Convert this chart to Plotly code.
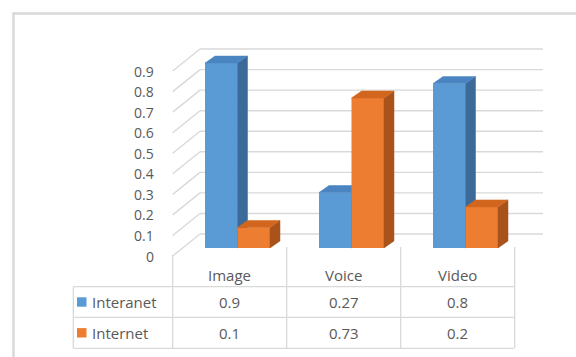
import plotly.graph_objects as go

# ---- data -------------------------------------------------------------
categories = ["Image", "Voice", "Video"]
series_names = ["Interanet", "Internet"]
interanet = [0.9, 0.27, 0.8]
internet = [0.1, 0.73, 0.2]
y_ticks = [0, 0.1, 0.2, 0.3, 0.4, 0.5, 0.6, 0.7, 0.8, 0.9]
y_tick_labels = ["0", "0.1", "0.2", "0.3", "0.4", "0.5", "0.6", "0.7", "0.8", "0.9"]

# ---- styling ----------------------------------------------------------
W, H = 576, 357
FONT = "Open Sans"
TXT = "#595959"
GRID = "#d9d9d9"
FRONT = ["#5b9bd5", "#ed7d31"]
TOP = ["#4a85c2", "#d2661f"]
SIDE = ["#3b6a99", "#a9531a"]

# geometry of the pseudo-3D box (pixels)
COL0, COLW = 229.7, 114.0      # centre of first column, column width
BASE, UNIT = 248.0, 205.5      # bar baseline, pixels per 1.0
BAR_W = 32.5 / COLW
OFFSETS = [-24.7 / COLW, 7.8 / COLW]
DX, DY = 10.0 / COLW, 7.0 / UNIT            # bar depth
BACK, FRONT_OFF = 14.0 / UNIT, -8.0 / UNIT  # wall offsets from bar plane


def xu(px):
    return (px - COL0) / COLW


def py(px):
    return 1 - px / H


x_range = [xu(0), xu(W)]
y_range = [(BASE - H) / UNIT, BASE / UNIT]

fig = go.Figure()
series = [interanet, internet]
axes = [("x", "y"), ("x2", "y2")]

for s, (vals, name) in enumerate(zip(series, series_names)):
    xa, ya = axes[s]
    xs = [i for i in range(len(categories))]
    fig.add_trace(go.Bar(
        x=xs, y=vals, width=BAR_W, offset=OFFSETS[s], name=name,
        marker=dict(color=FRONT[s], line=dict(width=0)),
        xaxis=xa, yaxis=ya, showlegend=False, hoverinfo="skip"))
    sx, sy, tx, ty = [], [], [], []
    for i, v in enumerate(vals):
        xl = i + OFFSETS[s]
        xr = xl + BAR_W
        sx += [xr, xr + DX, xr + DX, xr, xr, None]
        sy += [0, DY, v + DY, v, 0, None]
        tx += [xl, xl + DX, xr + DX, xr, xl, None]
        ty += [v, v + DY, v + DY, v, v, None]
    fig.add_trace(go.Scatter(x=sx, y=sy, fill="toself", fillcolor=SIDE[s],
                             mode="lines", line=dict(width=0.5, color=SIDE[s]),
                             xaxis=xa, yaxis=ya, showlegend=False, hoverinfo="skip"))
    fig.add_trace(go.Scatter(x=tx, y=ty, fill="toself", fillcolor=TOP[s],
                             mode="lines", line=dict(width=0.5, color=TOP[s]),
                             xaxis=xa, yaxis=ya, showlegend=False, hoverinfo="skip"))

shapes = []
# back wall gridlines and side wall diagonals
for v in y_ticks:
    shapes.append(dict(type="line", xref="x", yref="y", layer="below",
                       x0=xu(200), x1=xu(543), y0=v + BACK, y1=v + BACK,
                       line=dict(color=GRID, width=1.4)))
    shapes.append(dict(type="line", xref="x", yref="y", layer="below",
                       x0=xu(172.7), x1=xu(200), y0=v + FRONT_OFF, y1=v + BACK,
                       line=dict(color=GRID, width=1.4)))

# data table grid
TBL_L, TBL_R = 73.3, 514.0
ROWS = [286.7, 317.3, 348.3]
for r in ROWS:
    shapes.append(dict(type="line", xref="paper", yref="paper",
                       x0=TBL_L / W, x1=TBL_R / W, y0=py(r), y1=py(r),
                       line=dict(color=GRID, width=1.3)))
shapes.append(dict(type="line", xref="paper", yref="paper",
                   x0=TBL_L / W, x1=TBL_L / W, y0=py(ROWS[0]), y1=py(ROWS[-1]),
                   line=dict(color=GRID, width=1.3)))
for k in range(len(categories) + 1):
    top = 255 if k == 0 else 247
    shapes.append(dict(type="line", xref="x", yref="paper",
                       x0=k - 0.5, x1=k - 0.5, y0=py(top), y1=py(ROWS[-1]),
                       line=dict(color=GRID, width=1.3)))

# legend keys inside the table
for s in range(2):
    yc = (ROWS[s] + ROWS[s + 1]) / 2
    shapes.append(dict(type="rect", xref="paper", yref="paper",
                       x0=77 / W, x1=86.5 / W, y0=py(yc + 4.7), y1=py(yc - 4.7),
                       fillcolor=FRONT[s], line=dict(width=0)))

# chart area border
shapes.append(dict(type="line", xref="paper", yref="paper",
                   x0=13.5 / W, x1=13.5 / W, y0=py(12.5), y1=0,
                   line=dict(color="#d9d9d9", width=2.5)))
shapes.append(dict(type="line", xref="paper", yref="paper",
                   x0=12.5 / W, x1=1, y0=py(13.5), y1=py(13.5),
                   line=dict(color="#d9d9d9", width=2.5)))

annotations = []
fnt_axis = dict(family=FONT, size=14, color=TXT)
fnt_tbl = dict(family=FONT, size=15, color=TXT)
for v, lab in zip(y_ticks, y_tick_labels):
    annotations.append(dict(xref="paper", yref="y", x=155.5 / W, y=v + FRONT_OFF,
                            text=lab, showarrow=False, xanchor="right",
                            yanchor="middle", font=fnt_axis))
for i, c in enumerate(categories):
    annotations.append(dict(xref="x", yref="paper", x=i, y=py(274.5), text=c,
                            showarrow=False, xanchor="center", yanchor="middle",
                            font=fnt_tbl))
    for s, vals in enumerate(series):
        yc = (ROWS[s] + ROWS[s + 1]) / 2
        annotations.append(dict(xref="x", yref="paper", x=i, y=py(yc), text=f"{vals[i]:g}",
                                showarrow=False, xanchor="center", yanchor="middle",
                                font=fnt_tbl))
for s, name in enumerate(series_names):
    yc = (ROWS[s] + ROWS[s + 1]) / 2
    annotations.append(dict(xref="paper", yref="paper", x=90 / W, y=py(yc), text=name,
                            showarrow=False, xanchor="left", yanchor="middle",
                            font=fnt_tbl))

hidden = dict(visible=False, fixedrange=True)
fig.update_layout(
    width=W, height=H, margin=dict(l=0, r=0, t=0, b=0),
    paper_bgcolor="white", plot_bgcolor="rgba(0,0,0,0)",
    barmode="overlay", showlegend=False,
    xaxis=dict(range=x_range, domain=[0, 1], **hidden),
    yaxis=dict(range=y_range, domain=[0, 1], **hidden),
    xaxis2=dict(range=x_range, overlaying="x", anchor="y2", **hidden),
    yaxis2=dict(range=y_range, overlaying="y", anchor="x2", **hidden),
    shapes=shapes, annotations=annotations,
)

fig.write_html("out.html")
